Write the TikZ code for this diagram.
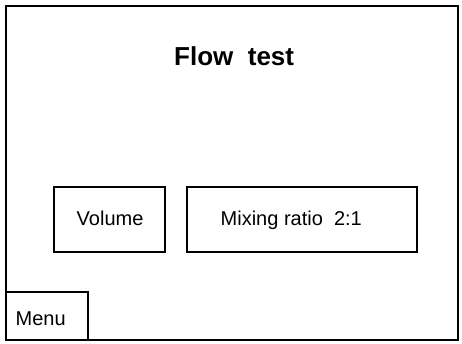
\documentclass[tikz,border=0pt]{standalone}
\usepackage{fontspec}
\setmainfont{Liberation Sans}
\begin{document}
\begin{tikzpicture}[x=1pt,y=-1pt,
  frame/.style={draw=black,line width=2pt,inner sep=0pt},
  lbl/.style={inner sep=0pt,anchor=base west,font=\fontsize{20}{24}\selectfont},
  ttl/.style={inner sep=0pt,anchor=base west,font=\fontsize{26}{30}\selectfont\bfseries}]
\useasboundingbox (0,0) rectangle (462,343);
\fill[white] (0,0) rectangle (462,343);
\draw[frame] (6,6) rectangle (458,340);
\node[frame,minimum width=111pt,minimum height=65pt] (vol) at (109.5,219.5) {};
\node[frame,minimum width=230pt,minimum height=65pt] (mix) at (302,219.5) {};
\node[frame,minimum width=82pt,minimum height=48pt] (menu) at (47,316) {};
\node[ttl] (title) at (174,65) {Flow\ \ test};
\node[lbl] (tvol) at (76.5,225.7) {Volume};
\node[lbl] (tmix) at (220.5,225.7) {Mixing ratio\ \ 2:1};
\node[lbl] (tmenu) at (15.5,325) {Menu};
\end{tikzpicture}
\end{document}
